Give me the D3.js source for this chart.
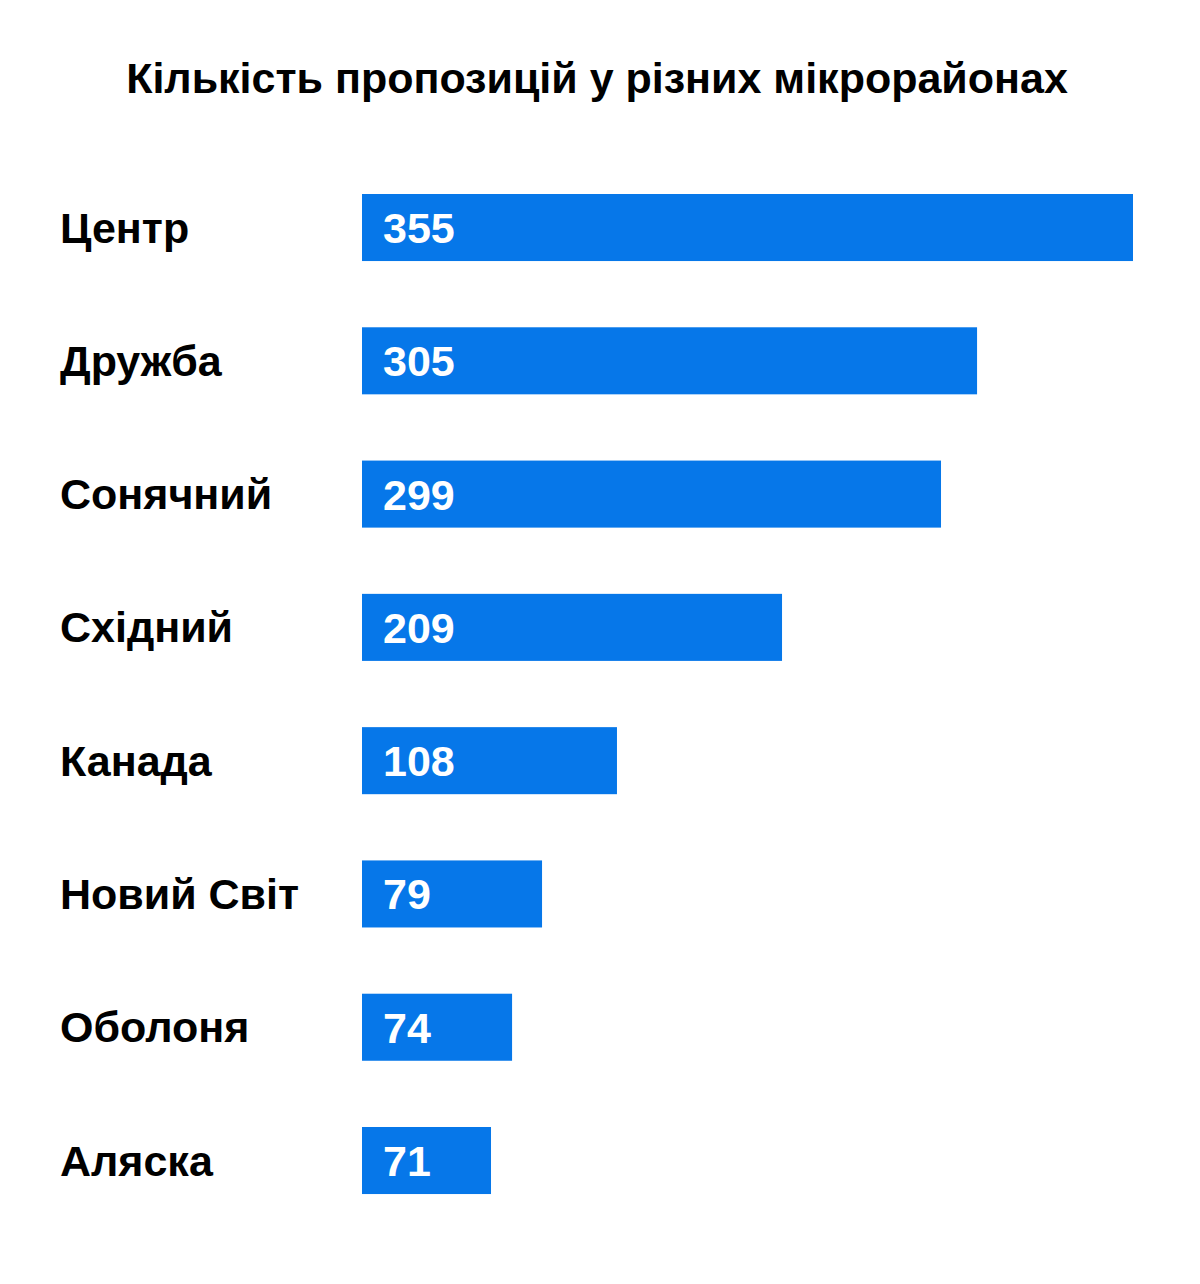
<!DOCTYPE html>
<html>
<head>
<meta charset="utf-8">
<script src="https://cdn.jsdelivr.net/npm/d3@7"></script>
<style>
  html, body { margin: 0; padding: 0; background: #ffffff; }
  svg { display: block; }
  text { font-family: "Liberation Sans", Arial, sans-serif; font-weight: bold; }
</style>
</head>
<body>
<div id="chart"></div>
<script>
// ---- data ----
const titleText = "Кількість пропозицій у різних мікрорайонах";
const districts = ["Центр", "Дружба", "Сонячний", "Східний", "Канада", "Новий Світ", "Оболоня", "Аляска"];
const counts = [355, 305, 299, 209, 108, 79, 74, 71];
// bar extents as drawn in the reference (not proportional to the printed counts), in count units
const barExtents = [355, 283.2, 266.6, 193.4, 117.4, 82.9, 69.1, 59.4];

// ---- layout ----
const W = 1200, H = 1284;
const svg = d3.select("#chart").append("svg").attr("width", W).attr("height", H);

const x = d3.scaleLinear().domain([0, 355]).range([362, 1133]);
const y = d3.scaleBand().domain(districts)
  .range([194, 1127 + 133.29 * 0.503]).paddingInner(0.497).paddingOuter(0).align(0);

svg.append("text")
  .attr("x", 597).attr("y", 93)
  .attr("text-anchor", "middle")
  .attr("font-size", 43)
  .attr("fill", "#000")
  .text(titleText);

const rows = svg.selectAll("g.row").data(districts).join("g").attr("class", "row");

rows.append("rect")
  .attr("x", x(0))
  .attr("y", d => y(d))
  .attr("width", (d, i) => x(barExtents[i]) - x(0))
  .attr("height", y.bandwidth())
  .attr("fill", "#0677e9");

rows.append("text")
  .attr("x", 60)
  .attr("y", d => y(d) + y.bandwidth() / 2 + 15)
  .attr("font-size", 43)
  .attr("fill", "#000")
  .text(d => d);

rows.append("text")
  .attr("x", x(0) + 21)
  .attr("y", d => y(d) + y.bandwidth() / 2 + 15.5)
  .attr("font-size", 43)
  .attr("fill", "#fff")
  .text((d, i) => counts[i]);
</script>
</body>
</html>
